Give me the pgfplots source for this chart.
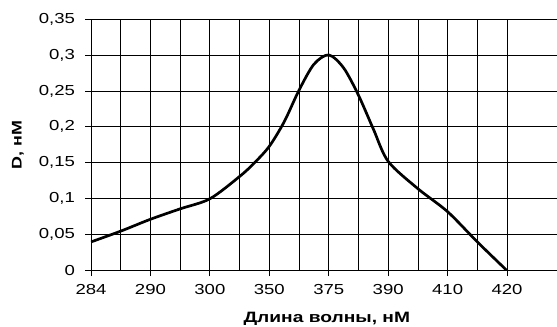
\documentclass[border=0pt]{standalone}
\usepackage{fontspec}
\setmainfont{Liberation Sans}[FakeStretch=1.28]
\usepackage{pgfplots}
\pgfplotsset{compat=1.18}
\begin{document}
\begin{tikzpicture}
\begin{axis}[
  name=ax,
  scale only axis,
  width=466pt, height=251.7pt,
  xmin=0, xmax=7.84,
  ymin=0, ymax=0.35,
  axis x line=bottom, axis y line=left,
  axis line style={black, line width=0.9pt, -},
  xtick={0,1,2,3,4,5,6,7},
  xticklabels={284,290,300,350,375,390,410,420},
  minor x tick num=1,
  ytick={0,0.05,0.1,0.15,0.2,0.25,0.3,0.35},
  yticklabels={0,{0,05},{0,1},{0,15},{0,2},{0,25},{0,3},{0,35}},
  grid=both,
  major grid style={black, line width=0.8pt},
  minor grid style={black, line width=0.8pt},
  tick align=outside,
  major tick length=5.5pt,
  minor tick length=0pt,
  tick style={black, line width=0.8pt},
  tick label style={font=\fontsize{14.5}{17}\selectfont},
  xticklabel style={yshift=-5pt},
  yticklabel style={xshift=-7pt},
  xlabel={\textbf{Длина волны, нМ}},
  ylabel={\textbf{D, нМ}},
  xlabel style={font=\fontsize{15}{18}\selectfont, at={(axis description cs:0.506,0)}, anchor=north, yshift=-38pt},
  ylabel style={font=\fontsize{14}{16}\selectfont, at={(axis description cs:-0.157,0.5)}, anchor=center},
]
\addplot[black, line width=2.7pt, smooth, tension=0.5] coordinates {
(0,0.040) (0.5,0.055) (1,0.0715) (1.5,0.086) (2,0.100) (2.5,0.131) (2.75,0.150)
(3,0.173) (3.25,0.207) (3.5,0.251) (3.75,0.287) (4,0.300) (4.25,0.282) (4.5,0.244)
(4.75,0.197) (5,0.152) (5.5,0.114) (6,0.082) (6.5,0.040) (7,0.000)
};
\end{axis}
\pgfresetboundingbox
\path ([shift={(-91pt,-56.3pt)}]ax.south west) rectangle ([shift={(0pt,19pt)}]ax.north east);
\end{tikzpicture}
\end{document}
